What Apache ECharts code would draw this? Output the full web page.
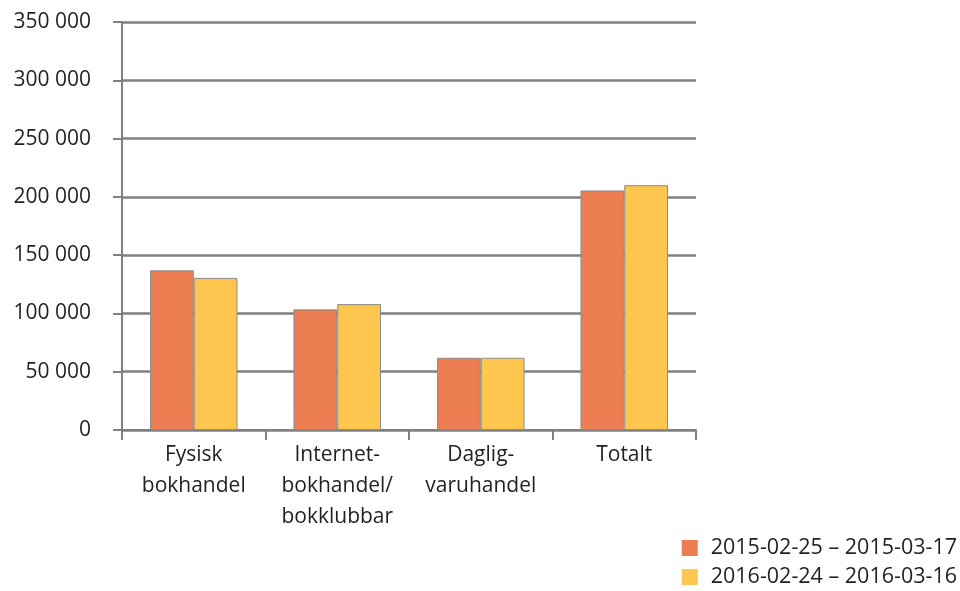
<!DOCTYPE html>
<html>
<head>
<meta charset="utf-8">
<script src="https://cdn.jsdelivr.net/npm/echarts@6/dist/echarts.min.js"></script>
<style>
  html, body { margin: 0; padding: 0; background: #fff; }
  #chart { width: 960px; height: 591px; }
</style>
</head>
<body>
<div id="chart"></div>
<script>
// data
var categories = ['Fysisk\nbokhandel', 'Internet-\nbokhandel/\nbokklubbar', 'Daglig-\nvaruhandel', 'Totalt'];
var seriesNames = ['2015-02-25 – 2015-03-17', '2016-02-24 – 2016-03-16'];
var values2015 = [137000, 103500, 62000, 205500];
var values2016 = [130500, 108000, 62000, 210000];
var yTicks = [0, 50000, 100000, 150000, 200000, 250000, 300000, 350000];

var fontFamily = '"Open Sans", "Noto Sans", sans-serif';
var textColor = '#231f20';
var lineColor = '#808080';

function fmt(v) {
  return String(v).replace(/\B(?=(\d{3})+(?!\d))/g, ' ');
}

function legendFor(name, top) {
  return {
    orient: 'vertical',
    right: 3,
    top: top,
    padding: 0,
    itemWidth: 16,
    itemHeight: 16,
    icon: 'rect',
    itemStyle: { borderWidth: 0 },
    textStyle: { fontSize: 21.5, color: textColor, fontFamily: fontFamily, padding: [0, 0, 0, 8] },
    data: [name]
  };
}

var chart = echarts.init(document.getElementById('chart'));
chart.setOption({
  animation: false,
  textStyle: { fontFamily: fontFamily },
  grid: { left: 122, right: 264, top: 22, bottom: 161 },
  legend: [legendFor(seriesNames[0], 537), legendFor(seriesNames[1], 566)],
  xAxis: {
    type: 'category',
    data: categories,
    axisLine: { show: true, lineStyle: { color: lineColor, width: 2 } },
    axisTick: { show: true, length: 10, lineStyle: { color: lineColor, width: 2 } },
    axisLabel: {
      color: textColor,
      fontSize: 21,
      lineHeight: 31,
      margin: 10,
      interval: 0
    }
  },
  yAxis: {
    type: 'value',
    min: yTicks[0],
    max: yTicks[yTicks.length - 1],
    interval: 50000,
    axisLine: { show: true, lineStyle: { color: lineColor, width: 2 } },
    axisTick: { show: true, length: 9, lineStyle: { color: lineColor, width: 2 } },
    splitLine: { show: true, lineStyle: { color: lineColor, width: 2.5 } },
    axisLabel: {
      color: textColor,
      fontSize: 21,
      margin: 31,
      formatter: fmt
    }
  },
  series: [
    {
      name: seriesNames[0],
      type: 'bar',
      data: values2015,
      barGap: '0%',
      barCategoryGap: '39%',
      itemStyle: { color: '#ec7e52', borderColor: '#8c8c8c', borderWidth: 1 }
    },
    {
      name: seriesNames[1],
      type: 'bar',
      data: values2016,
      barGap: '0%',
      barCategoryGap: '39%',
      itemStyle: { color: '#fdc64e', borderColor: '#8c8c8c', borderWidth: 1 }
    }
  ]
});
window.addEventListener('resize', chart.resize);
</script>
</body>
</html>
